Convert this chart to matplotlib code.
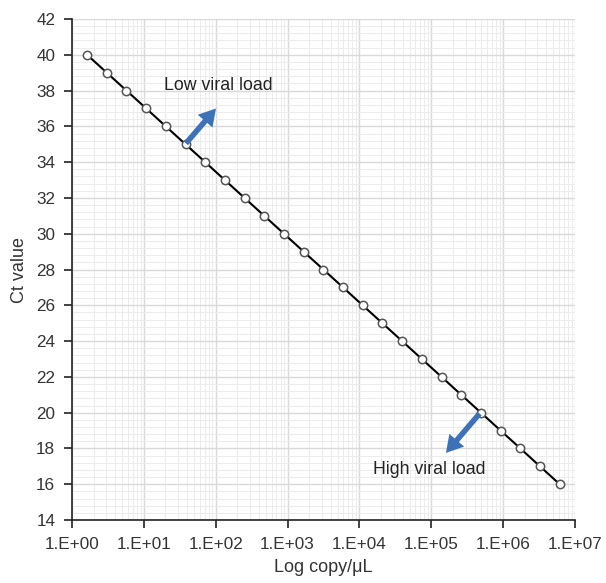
import numpy as np
import matplotlib.pyplot as plt
from matplotlib.ticker import FixedLocator, NullFormatter

plt.rcParams['font.family'] = ['Liberation Sans', 'DejaVu Sans']

# data
copies = [1.62, 3.05, 5.73, 10.8, 20.2, 38.0, 71.5, 134, 252, 474, 891, 1675,
          3150, 5920, 11100, 20900, 39300, 73900, 139000, 261000, 491000,
          923000, 1.74e6, 3.26e6, 6.13e6]
ct_values = [40, 39, 38, 37, 36, 35, 34, 33, 32, 31, 30, 29, 28, 27, 26, 25,
             24, 23, 22, 21, 20, 19, 18, 17, 16]
x_ticks = [1e0, 1e1, 1e2, 1e3, 1e4, 1e5, 1e6, 1e7]
x_labels = ['1.E+00', '1.E+01', '1.E+02', '1.E+03', '1.E+04', '1.E+05',
            '1.E+06', '1.E+07']
y_ticks = [14, 16, 18, 20, 22, 24, 26, 28, 30, 32, 34, 36, 38, 40, 42]

fig = plt.figure(figsize=(6.06, 5.83), dpi=100)
ax = fig.add_axes([0.1188, 0.108, 0.83, 0.8594])

ax.set_xscale('log')
ax.set_xlim(1, 1e7)
ax.set_ylim(14, 42)
ax.set_xticks(x_ticks)
ax.set_xticklabels(x_labels)
ax.set_yticks(y_ticks)
ax.xaxis.set_minor_locator(FixedLocator(
    [m * 10 ** d for d in range(7) for m in range(2, 10)]))
ax.xaxis.set_minor_formatter(NullFormatter())
ax.yaxis.set_minor_locator(FixedLocator(np.arange(14, 42.01, 0.4)))

ax.grid(which='major', color='#d9d9d9', lw=1.0)
ax.grid(which='minor', color='#ececec', lw=0.7)
ax.set_axisbelow(True)

for s in ['top', 'right']:
    ax.spines[s].set_visible(False)
for s in ['left', 'bottom']:
    ax.spines[s].set_color('#222222')
    ax.spines[s].set_linewidth(1.2)
ax.tick_params(which='major', direction='out', length=6, width=1.2,
               colors='#222222', labelsize=12.3, labelcolor='#333333')
ax.tick_params(axis='x', which='major', pad=6)
ax.tick_params(axis='y', which='major', pad=6)
ax.tick_params(which='minor', length=0)

ax.plot(copies, ct_values, color='black', lw=1.5, marker='o', ms=6,
        mfc='white', mec='#555555', mew=1.1, zorder=3)

ax.set_xlabel('Log copy/μL', fontsize=13, color='#333333', labelpad=5)
ax.set_ylabel('Ct value', fontsize=13, color='#333333', labelpad=6)

blue = '#3d72b8'
ax.annotate('', xy=(101, 37.0), xytext=(38.5, 35.05),
            arrowprops=dict(facecolor=blue, edgecolor='none', width=4,
                            headwidth=14, headlength=12, shrink=0))
ax.text(19, 38.3, 'Low viral load', fontsize=12.8, color='#222222',
        va='center', ha='left')
ax.annotate('', xy=(160000, 17.75), xytext=(470000, 19.95),
            arrowprops=dict(facecolor=blue, edgecolor='none', width=4,
                            headwidth=14, headlength=12, shrink=0))
ax.text(15400, 16.85, 'High viral load', fontsize=12.8, color='#222222',
        va='center', ha='left')

fig.savefig('out.png', dpi=100)
